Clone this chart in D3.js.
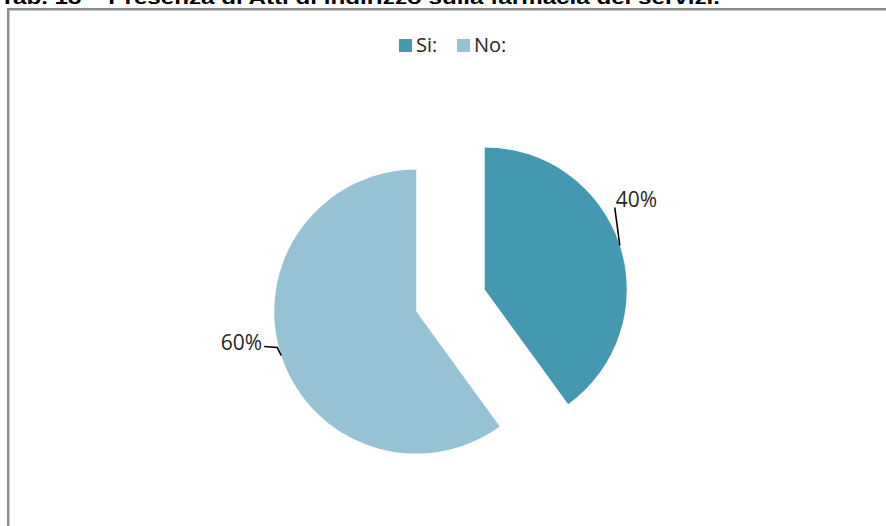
<!DOCTYPE html>
<html>
<head>
<meta charset="utf-8">
<script src="https://cdn.jsdelivr.net/npm/d3@7"></script>
<style>
  html, body { margin: 0; padding: 0; background: #ffffff; }
  svg { display: block; }
</style>
</head>
<body>
<svg id="chart" width="886" height="526"></svg>
<script>
// Data
const categories = ["Si:", "No:"];
const values = [40, 60];
const labels = ["40%", "60%"];
const colors = ["#4499b1", "#95c3d5"];
const titleText = "Tab. 13 \u2013 Presenza di Atti di indirizzo sulla farmacia dei servizi.";

const svg = d3.select("#chart");
const W = 886, H = 526;

// Title (runs off the top of the page)
svg.append("text")
  .attr("x", 0).attr("y", 4)
  .attr("font-family", "Liberation Sans, Arial, sans-serif")
  .attr("font-weight", "bold")
  .attr("font-size", 19)
  .attr("textLength", 720)
  .attr("lengthAdjust", "spacingAndGlyphs")
  .attr("fill", "#000")
  .text(titleText);

// Chart frame
svg.append("path")
  .attr("d", `M8,${H + 2} L8,9 L${W + 2},9`)
  .attr("fill", "none")
  .attr("stroke", "#8c8c8c")
  .attr("stroke-width", 2);
svg.append("path")
  .attr("d", `M9.5,${H + 2} L9.5,10.5 L${W + 2},10.5`)
  .attr("fill", "none")
  .attr("stroke", "#c8c8c8")
  .attr("stroke-width", 1);

// Legend
const legend = svg.append("g").attr("transform", "translate(399,39)");
const legendX = [0, 58];
categories.forEach((c, k) => {
  const g = legend.append("g").attr("transform", `translate(${legendX[k]},0)`);
  g.append("rect").attr("width", 13).attr("height", 13).attr("fill", colors[k]);
  g.append("text")
    .attr("x", 17).attr("y", 13)
    .attr("font-family", "Open Sans, DejaVu Sans, sans-serif")
    .attr("font-size", 20)
    .attr("fill", "#262626")
    .text(c);
});

// Pie, both slices pulled out from the centre
const cx = 450.5, cy = 300.5, r = 142, explode = 36;
const pie = d3.pie().sort(null).value(d => d)(values);
const arc = d3.arc().innerRadius(0).outerRadius(r);

const slices = svg.append("g");
const edge = pie.map((p, k) => {
  const mid = (p.startAngle + p.endAngle) / 2;
  const ox = cx + explode * Math.sin(mid), oy = cy - explode * Math.cos(mid);
  slices.append("path")
    .attr("transform", `translate(${ox},${oy})`)
    .attr("d", arc(p))
    .attr("fill", colors[k]);
  return [ox + r * Math.sin(mid), oy - r * Math.cos(mid)];
});

// Data labels with leader lines
const labelFamily = "Open Sans, DejaVu Sans, sans-serif";
const labelSize = 21;

// 40%
{
  const [ex, ey] = edge[0];
  svg.append("path")
    .attr("d", `M${ex},${ey} L${ex - 5},${ey - 38}`)
    .attr("stroke", "#000").attr("stroke-width", 1.6).attr("fill", "none");
  svg.append("text")
    .attr("x", ex - 4).attr("y", ey - 38)
    .attr("font-family", labelFamily).attr("font-size", labelSize)
    .attr("fill", "#262626")
    .text(labels[0]);
}
// 60%
{
  const [ex, ey] = edge[1];
  svg.append("path")
    .attr("d", `M${ex},${ey} L${ex - 4},${ey - 8} L${ex - 17},${ey - 9}`)
    .attr("stroke", "#000").attr("stroke-width", 1.6).attr("fill", "none");
  svg.append("text")
    .attr("x", ex - 19).attr("y", ey - 6)
    .attr("text-anchor", "end")
    .attr("font-family", labelFamily).attr("font-size", labelSize)
    .attr("fill", "#262626")
    .text(labels[1]);
}
</script>
</body>
</html>
